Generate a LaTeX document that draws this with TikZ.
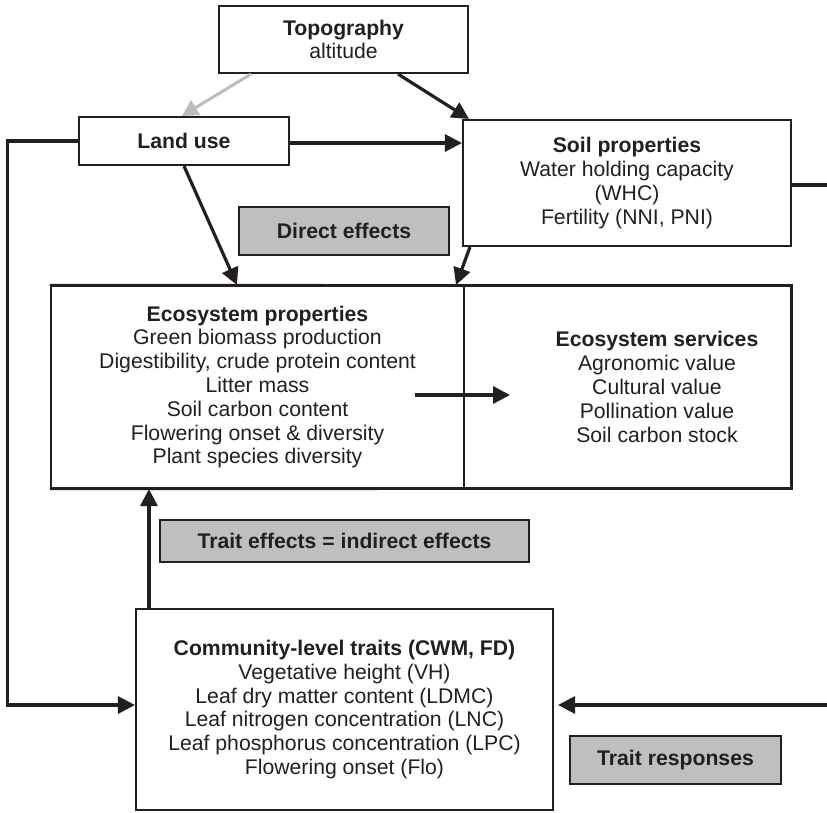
\documentclass[tikz,border=0pt]{standalone}
\usepackage{fontspec}
\setmainfont{Liberation Sans}
\usetikzlibrary{arrows.meta,calc}
\definecolor{ink}{HTML}{231F20}
\definecolor{labelgray}{HTML}{BEBFC1}
\definecolor{softarrow}{HTML}{BDBDBD}
\begin{document}
\begin{tikzpicture}[x=1pt,y=-1pt,
  txt/.style={font=\fontsize{21.2}{23.8}\selectfont, text=ink, align=center},
  box/.style={draw=ink, line width=2.1pt, fill=white, inner sep=0pt, txt},
  tag/.style={box, fill=labelgray, font=\fontsize{21.2}{23.8}\selectfont\bfseries},
  link/.style={draw=ink, line width=3.2pt, -{Triangle[length=17pt,width=17pt]}},
  softlink/.style={draw=softarrow, line width=3pt, -{Triangle[length=16pt,width=17pt]}},
  rail/.style={draw=ink, line width=3.2pt}
]
\useasboundingbox (0,0) rectangle (827,812);

% boxes
\node[box, minimum width=249pt, minimum height=67pt] (topo) at (343.5,39.5)
  {\textbf{Topography}\\altitude};
\node[box, minimum width=210pt, minimum height=48pt] (landuse) at (184,141)
  {\textbf{Land use}};
\node[box, minimum width=328pt, minimum height=126pt] (soil) at (627,183)
  {\textbf{Soil properties}\\Water holding capacity\\(WHC)\\Fertility (NNI, PNI)};
\node[box, minimum width=413pt, minimum height=202pt] (ecoprop) at (257.5,387)
  {\textbf{Ecosystem properties}\\Green biomass production\\Digestibility, crude protein content\\Litter mass\\Soil carbon content\\Flowering onset \& diversity\\Plant species diversity};
\node[box, line width=1.6pt, minimum width=327pt, minimum height=202pt] (ecoserv) at (627.5,387) {};
\draw[ink, line width=2.1pt] (ecoprop.north west) -- (ecoserv.north east) -- (ecoserv.south east) -- (ecoprop.south west);
\node[txt] (servtext) at (657,387)
  {\textbf{Ecosystem services}\\Agronomic value\\Cultural value\\Pollination value\\Soil carbon stock};
\node[box, minimum width=417pt, minimum height=201pt] (trait) at (344.5,709.5)
  {\textbf{Community-level traits (CWM, FD)}\\Vegetative height (VH)\\Leaf dry matter content (LDMC)\\Leaf nitrogen concentration (LNC)\\Leaf phosphorus concentration (LPC)\\Flowering onset (Flo)};

% grey labels
\node[tag, minimum width=210pt, minimum height=48pt] (direct) at (344,231) {Direct effects};
\node[tag, minimum width=369pt, minimum height=42pt] (indirect) at (344.5,541) {Trait effects = indirect effects};
\node[tag, minimum width=211pt, minimum height=48pt] (responses) at (675.5,760) {Trait responses};

% free ends
\coordinate (leftrail) at (7.5,0);
\coordinate (rightedge) at (827,705);
\coordinate (flowA) at (415,395);
\coordinate (flowB) at (510,395);

% connectors
\draw[softlink] ([xshift=33pt]topo.south west) -- ([xshift=-2pt]landuse.north);
\draw[link] ([xshift=-71pt]topo.south east) -- ([xshift=7pt]soil.north west);
\draw[link] ([yshift=-2pt]landuse.east) -- ([yshift=-2pt]landuse.east -| soil.west);
\draw[link] (landuse.south) -- ([xshift=-20.5pt]ecoprop.north);
\draw[link] ([xshift=8pt]soil.south west) -- ([xshift=-9pt]ecoprop.north east);
\draw[rail] ([yshift=-2pt]soil.east) -- ([yshift=-2pt]soil.east -| rightedge);
\draw[link] (flowA) -- (flowB);
\draw[link] ([xshift=14pt]trait.north west) -- ([xshift=14pt]trait.north west |- ecoprop.south);
\draw[link] (landuse.west) -- (landuse.west -| leftrail) |- ([yshift=4.5pt]trait.west);
\draw[link, shorten >=4pt] (rightedge) -- ([yshift=4.5pt]trait.east);
\end{tikzpicture}
\end{document}
